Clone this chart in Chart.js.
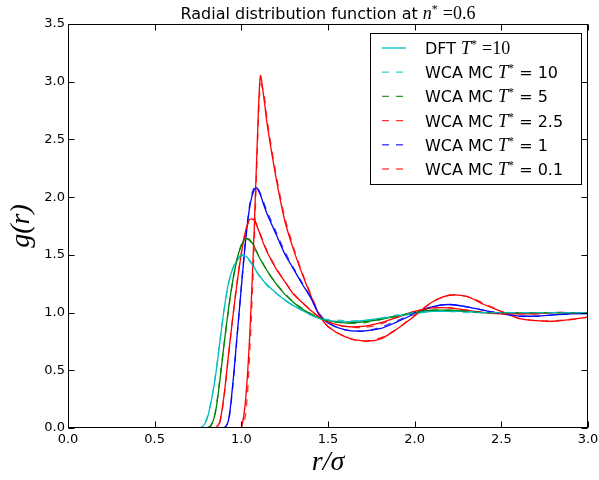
<!DOCTYPE html>
<html>
<head>
<meta charset="utf-8">
<script src="https://cdn.jsdelivr.net/npm/chart.js@4.4.0/dist/chart.umd.min.js"></script>
<style>
  html, body { margin: 0; padding: 0; background: #fff; }
</style>
</head>
<body>
<canvas id="graficoRdf" width="599" height="480"></canvas>
<script>
// ===== DADOS =====
const rGrid = [0, 0.70, 0.75, 0.775, 0.80, 0.825, 0.85, 0.875, 0.90, 0.925, 0.95, 0.975, 1.00, 1.025, 1.05, 1.075, 1.09, 1.11, 1.13, 1.15,
  1.20, 1.25, 1.30, 1.35, 1.40, 1.45, 1.50, 1.60, 1.70, 1.80, 1.90, 2.00, 2.10, 2.20, 2.30, 2.40, 2.50, 2.60, 2.70, 2.80, 2.90, 3.00];

// DFT (linhas cheias)
const dft10 = [0, 0, 0, 0.01, 0.07, 0.22, 0.44, 0.73, 1.02, 1.25, 1.38, 1.45, 1.49, 1.49, 1.45, 1.39, 1.35, 1.31, 1.27, 1.24,
  1.17, 1.11, 1.06, 1.02, 0.98, 0.95, 0.93, 0.92, 0.93, 0.95, 0.97, 0.99, 1.01, 1.01, 1.01, 1.00, 1.00, 1.00, 1.00, 1.00, 1.00, 1.00];
const dft5 = [0, 0, 0, 0, 0, 0.02, 0.13, 0.40, 0.72, 1.02, 1.27, 1.46, 1.58, 1.64, 1.63, 1.57, 1.52, 1.46, 1.41, 1.36,
  1.25, 1.16, 1.09, 1.03, 0.99, 0.95, 0.93, 0.91, 0.92, 0.94, 0.97, 1.00, 1.02, 1.02, 1.01, 1.00, 1.00, 1.00, 1.00, 1.00, 1.00, 1.00];
const dft25 = [0, 0, 0, 0, 0, 0, 0, 0.05, 0.28, 0.62, 0.95, 1.25, 1.51, 1.71, 1.81, 1.80, 1.75, 1.67, 1.59, 1.52,
  1.38, 1.27, 1.16, 1.09, 1.02, 0.96, 0.92, 0.88, 0.88, 0.91, 0.96, 1.01, 1.04, 1.04, 1.02, 1.00, 0.99, 0.99, 0.99, 1.00, 1.00, 1.00];
const dft1 = [0, 0, 0, 0, 0, 0, 0, 0, 0, 0.06, 0.37, 0.79, 1.22, 1.63, 1.93, 2.07, 2.08, 2.02, 1.93, 1.85,
  1.68, 1.51, 1.38, 1.25, 1.13, 0.98, 0.91, 0.85, 0.84, 0.86, 0.92, 0.99, 1.05, 1.07, 1.05, 1.02, 0.99, 0.97, 0.97, 0.98, 0.99, 0.99];
const dft01 = [0, 0, 0, 0, 0, 0, 0, 0, 0, 0, 0, 0, 0, 0.25, 0.85, 1.75, 2.40, 3.05, 2.86, 2.62,
  2.17, 1.80, 1.55, 1.34, 1.15, 0.98, 0.88, 0.79, 0.755, 0.77, 0.86, 0.97, 1.09, 1.15, 1.14, 1.07, 1.01, 0.95, 0.93, 0.925, 0.94, 0.96];

// WCA MC (tracejadas)
const mc10 = [0, 0, 0, 0.01, 0.08, 0.23, 0.45, 0.74, 1.02, 1.24, 1.38, 1.46, 1.50, 1.49, 1.44, 1.39, 1.35, 1.30, 1.27, 1.23,
  1.17, 1.11, 1.06, 1.02, 0.98, 0.95, 0.94, 0.93, 0.93, 0.95, 0.98, 1.00, 1.01, 1.01, 1.00, 1.00, 1.00, 1.00, 1.00, 1.00, 1.00, 1.00];
const mc5 = [0, 0, 0, 0, 0, 0.02, 0.14, 0.41, 0.72, 1.01, 1.27, 1.46, 1.59, 1.64, 1.62, 1.57, 1.52, 1.47, 1.41, 1.36,
  1.25, 1.17, 1.09, 1.04, 0.99, 0.96, 0.93, 0.91, 0.91, 0.94, 0.97, 1.00, 1.02, 1.02, 1.01, 1.00, 1.00, 1.00, 1.00, 1.00, 1.00, 1.00];
const mc25 = [0, 0, 0, 0, 0, 0, 0, 0.04, 0.27, 0.61, 0.95, 1.26, 1.52, 1.71, 1.80, 1.80, 1.76, 1.68, 1.60, 1.53,
  1.39, 1.27, 1.17, 1.09, 1.02, 0.96, 0.92, 0.88, 0.87, 0.90, 0.96, 1.01, 1.04, 1.04, 1.02, 1.00, 0.99, 0.99, 0.99, 1.00, 1.00, 1.00];
const mc1 = [0, 0, 0, 0, 0, 0, 0, 0, 0, 0.05, 0.35, 0.78, 1.22, 1.64, 1.95, 2.09, 2.09, 2.03, 1.95, 1.87,
  1.70, 1.53, 1.39, 1.26, 1.13, 0.99, 0.91, 0.85, 0.84, 0.87, 0.93, 1.00, 1.05, 1.07, 1.05, 1.02, 0.99, 0.97, 0.97, 0.98, 0.99, 0.99];
const mc01 = [0, 0, 0, 0, 0, 0, 0, 0, 0, 0, 0, 0, 0, 0.12, 0.70, 1.62, 2.30, 2.98, 2.90, 2.66,
  2.20, 1.83, 1.57, 1.35, 1.16, 0.99, 0.88, 0.79, 0.75, 0.78, 0.86, 0.98, 1.09, 1.15, 1.14, 1.08, 1.01, 0.95, 0.93, 0.93, 0.94, 0.96];

const temperaturas = ["10", "5", "2.5", "1", "0.1"];
const coresT = ["#00bfbf", "#008000", "#ff0000", "#0000ff", "#ff0000"];
const xTicks = [0, 0.5, 1.0, 1.5, 2.0, 2.5, 3.0];
const yTicks = [0, 0.5, 1.0, 1.5, 2.0, 2.5, 3.0, 3.5];

// ===== MONTA DATASETS =====
const serieDft = [dft10, dft5, dft25, dft1, dft01];
const serieMc = [mc10, mc5, mc25, mc1, mc01];
const pontos = arr => rGrid.map((r, i) => ({ x: r, y: arr[i] }));

function comAlfa(hex, a) {
  const n = parseInt(hex.slice(1), 16);
  return `rgba(${n >> 16},${(n >> 8) & 255},${n & 255},${a})`;
}

const datasets = [];
// MC primeiro -> fica por cima no desenho
serieMc.forEach((arr, i) => {
  datasets.push({
    label: `WCA MC T* = ${temperaturas[i]}`,
    data: pontos(arr),
    borderColor: comAlfa(coresT[i], 0.8),
    borderWidth: 1.3,
    borderDash: [7, 7],
    naLegenda: true
  });
});
serieDft.forEach((arr, i) => {
  datasets.push({
    label: `DFT T* =${temperaturas[i]}`,
    data: pontos(arr),
    borderColor: coresT[i],
    borderWidth: 1.3,
    naLegenda: i === 0
  });
});

// ===== TEXTO COM PARTES EM FONTE MATEMÁTICA =====
const SANS = "DejaVu Sans";
const SERIF = "Liberation Serif";

function textoRico(ctx, partes, x, y, alinhar) {
  let total = 0;
  partes.forEach(p => { ctx.font = p.f; p.w = ctx.measureText(p.t).width + (p.gap || 0); total += p.w; });
  let cx = alinhar === "center" ? x - total / 2 : x;
  partes.forEach(p => { ctx.font = p.f; ctx.fillText(p.t, cx + (p.gap || 0), y + (p.dy || 0)); cx += p.w; });
}

function partesRotulo(label) {
  const [antes, depois] = label.split("T*");
  const ehMat = /^\s?=\S/.test(depois);
  return [
    { t: antes, f: `16px "${SANS}"` },
    { t: "T", f: `italic 18px "${SERIF}"` },
    { t: "*", f: `12px "${SERIF}"`, dy: -6 },
    ehMat
      ? { t: "=" + depois.replace(/^\s?=/, ""), f: `18px "${SERIF}"`, gap: 5 }
      : { t: depois, f: `16px "${SANS}"` }
  ];
}

// ===== PLUGIN: MOLDURA, TICKS, TÍTULO E LEGENDA =====
const plugMoldura = {
  id: "moldura",
  afterDraw(chart) {
    const { ctx, chartArea: a, scales: { x, y } } = chart;
    ctx.save();
    ctx.strokeStyle = "#000";
    ctx.lineWidth = 1;
    const L = Math.round(a.left) + 0.5, R = Math.round(a.right) - 0.5;
    const T = Math.round(a.top) + 0.5, B = Math.round(a.bottom) - 0.5;
    ctx.strokeRect(L, T, R - L, B - T);

    // ticks para dentro nos quatro lados
    const tam = 6;
    ctx.beginPath();
    xTicks.forEach(v => {
      const px = Math.round(x.getPixelForValue(v)) + 0.5;
      ctx.moveTo(px, B); ctx.lineTo(px, B - tam);
      ctx.moveTo(px, T); ctx.lineTo(px, T + tam);
    });
    yTicks.forEach(v => {
      const py = Math.round(y.getPixelForValue(v)) + 0.5;
      ctx.moveTo(L, py); ctx.lineTo(L + tam, py);
      ctx.moveTo(R, py); ctx.lineTo(R - tam, py);
    });
    ctx.stroke();

    // título
    ctx.fillStyle = "#000";
    ctx.textBaseline = "alphabetic";
    textoRico(ctx, [
      { t: "Radial distribution function at ", f: `16px "${SANS}"` },
      { t: "n", f: `italic 18px "${SERIF}"` },
      { t: "*", f: `12px "${SERIF}"`, dy: -6 },
      { t: "=0.6", f: `18px "${SERIF}"`, gap: 5 }
    ], (a.left + a.right) / 2, 19, "center");

    // legenda com caixa
    const itens = chart.data.datasets.filter(d => d.naLegenda);
    itens.sort((p, q) => (p.label.startsWith("DFT") ? -1 : 0) - (q.label.startsWith("DFT") ? -1 : 0));
    const bx = 370.5, by = 33.5, bw = 211, bh = 151;
    ctx.fillStyle = "#fff";
    ctx.fillRect(bx, by, bw, bh);
    ctx.strokeRect(bx, by, bw, bh);
    itens.forEach((d, i) => {
      const ly = 48 + i * 24.2;
      ctx.beginPath();
      ctx.strokeStyle = d.borderColor;
      ctx.lineWidth = d.borderWidth;
      ctx.setLineDash(d.borderDash || []);
      ctx.moveTo(382, ly); ctx.lineTo(406, ly);
      ctx.stroke();
      ctx.setLineDash([]);
      ctx.fillStyle = "#000";
      textoRico(ctx, partesRotulo(d.label), 425, ly + 6);
    });
    ctx.restore();
  }
};

// ===== GRÁFICO =====
const ctx = document.getElementById("graficoRdf");

new Chart(ctx, {
  type: "line",
  data: { datasets },
  options: {
    responsive: false,
    animation: false,
    devicePixelRatio: 1,
    layout: { padding: { top: 24, right: 11, left: 0, bottom: 0 } },
    elements: {
      point: { radius: 0 },
      line: { tension: 0.3, fill: false }
    },
    plugins: { legend: { display: false }, title: { display: false }, tooltip: { enabled: false } },
    scales: {
      x: {
        type: "linear",
        min: 0, max: 3,
        grid: { display: false, drawTicks: false },
        border: { display: false },
        afterBuildTicks: s => { s.ticks = xTicks.map(v => ({ value: v })); },
        ticks: {
          padding: 4, color: "#000",
          font: { family: SANS, size: 13 },
          maxRotation: 0,
          callback: v => v.toFixed(1)
        },
        title: {
          display: true, text: "r/σ", color: "#000",
          font: { family: SERIF, style: "italic", size: 28, lineHeight: 1 },
          padding: { top: 0, bottom: 3 }
        },
        afterFit: s => { s.height = 52; s.paddingLeft = 0; s.paddingRight = 0; }
      },
      y: {
        min: 0, max: 3.5,
        grid: { display: false, drawTicks: false },
        border: { display: false },
        afterBuildTicks: s => { s.ticks = yTicks.map(v => ({ value: v })); },
        ticks: {
          padding: 3, color: "#000",
          font: { family: SANS, size: 13 },
          callback: v => v.toFixed(1)
        },
        title: {
          display: true, text: "g(r)", color: "#000",
          font: { family: SERIF, style: "italic", size: 28, lineHeight: 1 },
          padding: { top: 8, bottom: 0 }
        },
        afterFit: s => { s.width = 68; s.paddingTop = 0; s.paddingBottom = 0; }
      }
    }
  },
  plugins: [plugMoldura]
});
</script>
</body>
</html>
